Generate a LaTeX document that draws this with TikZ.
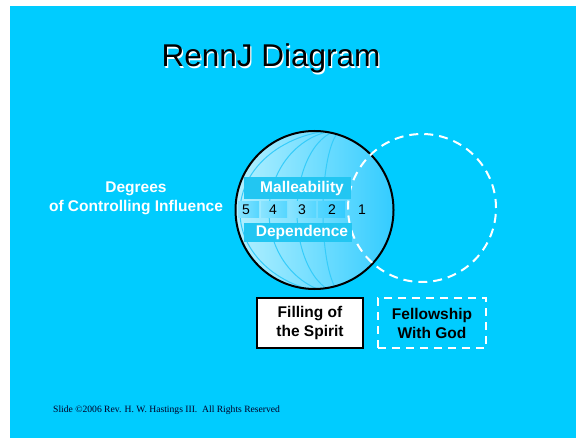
\documentclass[tikz,border=0pt]{standalone}
\usepackage{fontspec}
\setmainfont{Liberation Sans}
\newfontfamily\footfont{Liberation Serif}
\definecolor{bgblue}{HTML}{00CCFF}
\definecolor{circlelight}{HTML}{B3F0FF}
\definecolor{circledark}{HTML}{33CCFF}
\definecolor{arcblue}{HTML}{36CCFA}
\definecolor{bandblue}{HTML}{22C6F2}
\definecolor{celllight}{HTML}{8AE4FF}
\definecolor{cellmid}{HTML}{55D6FF}
\tikzset{
  boldtext/.style={font=\fontsize{15.5bp}{19bp}\selectfont\bfseries, align=center, inner sep=0pt},
  numtext/.style={font=\fontsize{14bp}{16bp}\selectfont, text=black, inner sep=0pt},
  band/.style={fill=bandblue, draw=none},
  cell/.style={left color=celllight, right color=cellmid, draw=none},
  arcline/.style={draw=arcblue, line width=1bp},
}
\begin{document}
\begin{tikzpicture}[x=1bp,y=-1bp]
\useasboundingbox (0,0) rectangle (576,438);
\fill[white] (0,0) rectangle (576,438);
\fill[bgblue] (10,6) rectangle (576,438);

% title with white shadow
\node[font=\fontsize{31.5bp}{34bp}\selectfont, text=white, anchor=base] (titleshadow) at (272.3,68.3) {RennJ Diagram};
\node[font=\fontsize{31.5bp}{34bp}\selectfont, text=black, anchor=base] (title) at (271,67) {RennJ Diagram};

% left label
\node[boldtext, text=white] (degrees) at (136,198.5) {Degrees\\of Controlling Influence};

% solid circle with shading and meridian arcs
\coordinate (sc) at (314.5,210);
\shade[left color=circlelight, right color=circledark] (sc) circle[radius=79bp];
\begin{scope}
  \clip (sc) circle[radius=79bp];
  \foreach \rx in {103,74,46,20}{
    \draw[arcline] (343,130) arc[start angle=90, end angle=270, x radius=\rx bp, y radius=82bp];
  }
\end{scope}
\node[circle, draw=black, line width=2bp, minimum size=158bp, inner sep=0pt] (solid) at (sc) {};

% dashed circle
\node[circle, draw=white, line width=2bp, dash pattern=on 9bp off 6bp, minimum size=148bp, inner sep=0pt] (dashedc) at (422,208) {};

% bands
\fill[band] (244,177) rectangle (351,199);
\fill[band] (244,223) rectangle (352,242);
\node[boldtext, text=white] (mall) at (302,188) {Malleability};
\node[boldtext, text=white] (dep) at (302,232.5) {Dependence};

% number cells
\begin{scope}
  \clip (sc) circle[radius=78bp];
  \shade[cell] (238,202) rectangle (259,218);
\end{scope}
\shade[cell] (261,202) rectangle (287,218);
\shade[cell] (289,202) rectangle (316,218);
\shade[left color=cellmid, right color=circledark] (318,202) rectangle (345,218);
\node[numtext] (n5) at (246,210) {5};
\node[numtext] (n4) at (273,210) {4};
\node[numtext] (n3) at (302,210) {3};
\node[numtext] (n2) at (332,210) {2};
\node[numtext] (n1) at (362,210) {1};

% bottom boxes
\node[draw=black, fill=white, line width=2bp, minimum width=106bp, minimum height=50bp, inner sep=0pt] (filling) at (310,323) {};
\node[boldtext, text=black] at (filling.center) {Filling of\\the Spirit};
\node[draw=white, line width=2bp, dash pattern=on 8bp off 6bp, minimum width=108bp, minimum height=50bp, inner sep=0pt] (fellow) at (432,323) {};
\node[boldtext, text=black] at (fellow.center) {Fellowship\\With God};

% footer
\node[font=\footfont\fontsize{9.6bp}{11bp}\selectfont, text=black!85!blue, anchor=base west, inner sep=0pt] (footer) at (53,412) {Slide \textcopyright2006 Rev. H. W. Hastings III.\ \ All Rights Reserved};
\end{tikzpicture}
\end{document}
